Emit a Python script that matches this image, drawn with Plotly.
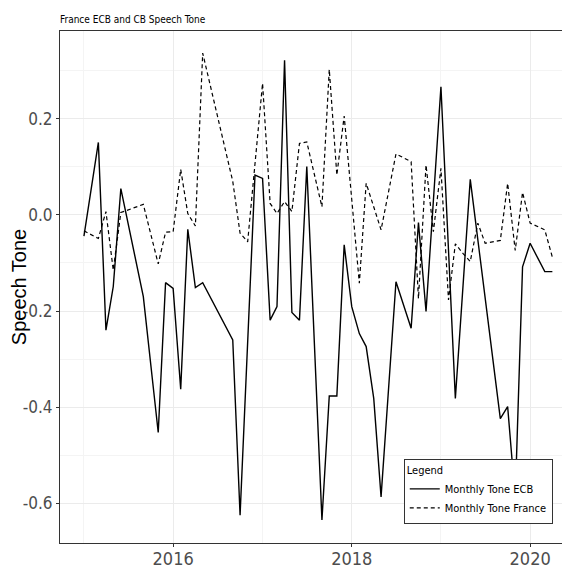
import plotly.graph_objects as go

# ---- data ----
ecb_dates = ["2015-01", "2015-03", "2015-04", "2015-05", "2015-06", "2015-09", "2015-11", "2015-12",
             "2016-01", "2016-02", "2016-03", "2016-04", "2016-05", "2016-09", "2016-10", "2016-12",
             "2017-01", "2017-02", "2017-03", "2017-04", "2017-05", "2017-06", "2017-07", "2017-09",
             "2017-10", "2017-11", "2017-12", "2018-01", "2018-02", "2018-03", "2018-04", "2018-05",
             "2018-07", "2018-09", "2018-10", "2018-11", "2019-01", "2019-03", "2019-05", "2019-09",
             "2019-10", "2019-11", "2019-12", "2020-01", "2020-03", "2020-04"]
ecb_tone = [-0.044, 0.151, -0.240, -0.149, 0.055, -0.170, -0.453, -0.141,
            -0.153, -0.363, -0.030, -0.151, -0.141, -0.260, -0.625, 0.083,
            0.076, -0.219, -0.191, 0.322, -0.203, -0.219, 0.101, -0.635,
            -0.377, -0.377, -0.062, -0.191, -0.247, -0.274, -0.382, -0.587,
            -0.139, -0.236, -0.016, -0.201, 0.267, -0.382, 0.074, -0.424,
            -0.399, -0.590, -0.108, -0.059, -0.118, -0.118]

fr_dates = ["2015-01", "2015-03", "2015-04", "2015-05", "2015-06", "2015-09", "2015-11", "2015-12",
            "2016-01", "2016-02", "2016-03", "2016-04", "2016-05", "2016-09", "2016-10", "2016-11",
            "2017-01", "2017-02", "2017-03", "2017-04", "2017-05", "2017-06", "2017-07", "2017-09",
            "2017-10", "2017-11", "2017-12", "2018-02", "2018-03", "2018-05", "2018-07", "2018-09",
            "2018-10", "2018-11", "2018-12", "2019-01", "2019-02", "2019-03", "2019-04", "2019-05",
            "2019-06", "2019-07", "2019-09", "2019-10", "2019-11", "2019-12", "2020-01", "2020-03",
            "2020-04"]
fr_tone = [-0.033, -0.049, 0.007, -0.115, 0.005, 0.022, -0.102, -0.036,
           -0.035, 0.095, 0.003, -0.023, 0.337, 0.070, -0.038, -0.056,
           0.274, 0.024, 0.003, 0.028, 0.007, 0.149, 0.152, 0.017,
           0.303, 0.083, 0.206, -0.142, 0.066, -0.031, 0.127, 0.111,
           -0.174, 0.104, -0.035, 0.097, -0.177, -0.060, -0.080, -0.097,
           -0.017, -0.059, -0.053, 0.066, -0.074, 0.047, -0.017, -0.031,
           -0.088]

series_names = ["Monthly Tone ECB", "Monthly Tone France"]
x_tick_vals = ["2016-01-01", "2018-01-01", "2020-01-01"]
x_tick_text = ["2016", "2018", "2020"]
y_tick_vals = [-0.6, -0.4, -0.2, 0.0, 0.2]
y_tick_text = ["-0.6", "-0.4", "-0.2", "0.0", "0.2"]

NARROW = "Liberation Sans Narrow, DejaVu Sans Condensed, Liberation Sans, sans-serif"
REG = "Liberation Sans, Arial, sans-serif"

fig = go.Figure()
fig.add_trace(go.Scatter(x=ecb_dates, y=ecb_tone, mode="lines", name=series_names[0],
                         line=dict(color="black", width=1.4)))
fig.add_trace(go.Scatter(x=fr_dates, y=fr_tone, mode="lines", name=series_names[1],
                         line=dict(color="black", width=1.2, dash="4px,3px")))

grid_major = "#EBEBEB"
grid_minor = "#F4F4F4"

# the page has an 8px body margin, so the figure is 562x562 and offset by 8px
fig.update_layout(
    width=562, height=562,
    margin=dict(l=52, r=2, t=23, b=27, autoexpand=False),
    paper_bgcolor="white", plot_bgcolor="white",
    title=dict(text="France ECB and CB Speech Tone", x=0, xref="paper", xanchor="left",
               y=1 - 11 / 562, yref="container", yanchor="middle", automargin=False,
               font=dict(family=NARROW, size=10, color="black")),
    showlegend=True,
    legend=dict(title=dict(text="Legend", font=dict(family=NARROW, size=11, color="black")),
                font=dict(family=NARROW, size=11, color="black"),
                x=0.97, y=0.037, xanchor="right", yanchor="bottom",
                bgcolor="white", bordercolor="#333333", borderwidth=1,
                itemwidth=30, tracegroupgap=0),
    xaxis=dict(type="date", range=["2014-09-25", "2020-06-04"], automargin=False,
               tickmode="array", tickvals=x_tick_vals, ticktext=x_tick_text,
               tickfont=dict(family=NARROW, size=18, color="#4D4D4D"),
               ticks="outside", ticklen=3, tickcolor="#333333", ticklabelstandoff=-4,
               showgrid=True, gridcolor=grid_major, gridwidth=1,
               minor=dict(tickmode="array",
                          tickvals=["2015-01-01", "2017-01-01", "2019-01-01"],
                          showgrid=True, gridcolor=grid_minor, gridwidth=1, ticks=""),
               showline=True, linecolor="#333333", linewidth=1, mirror=True,
               zeroline=False),
    yaxis=dict(range=[-0.683, 0.383], automargin=False,
               title=dict(text="Speech Tone", standoff=4,
                          font=dict(family=REG, size=20, color="black")),
               tickmode="array", tickvals=y_tick_vals, ticktext=y_tick_text,
               tickfont=dict(family=NARROW, size=17, color="#4D4D4D"),
               ticks="outside", ticklen=3, tickcolor="#333333",
               showgrid=True, gridcolor=grid_major, gridwidth=1,
               minor=dict(tickmode="array", tickvals=[-0.5, -0.3, -0.1, 0.1, 0.3],
                          showgrid=True, gridcolor=grid_minor, gridwidth=1, ticks=""),
               showline=True, linecolor="#333333", linewidth=1, mirror=True,
               zeroline=False),
)

fig.write_html("out.html")
